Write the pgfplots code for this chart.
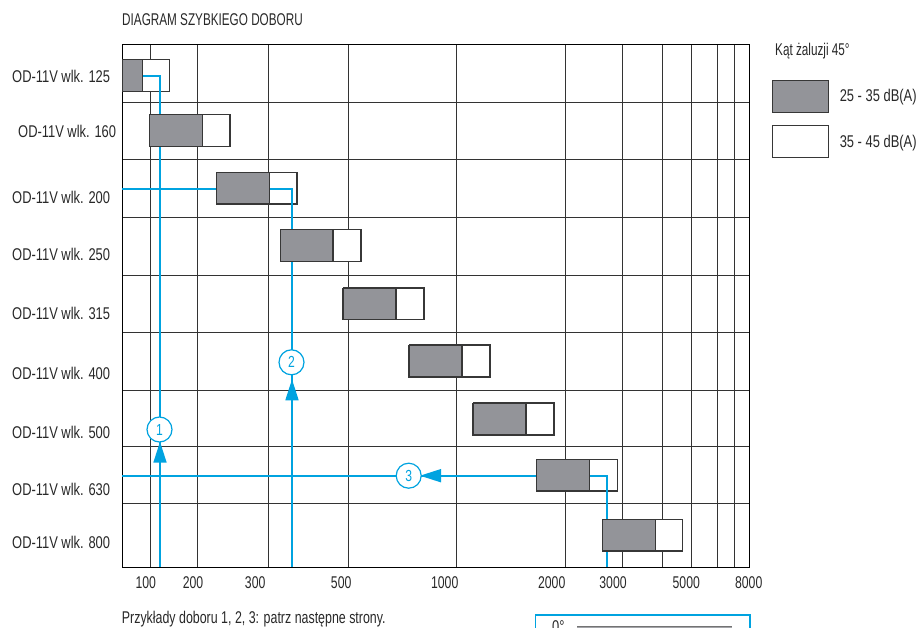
\documentclass[border=0pt]{standalone}
\usepackage{fontspec}
\setmainfont{Liberation Sans}[FakeStretch=0.76]
\newfontfamily\tickfont{Liberation Sans}[FakeStretch=0.72]
\newfontfamily\narrowfont{Liberation Sans}[FakeStretch=0.69]
\newfontfamily\notefont{Liberation Sans}[FakeStretch=0.73]
\usepackage{pgfplots}
\pgfplotsset{compat=1.18}
\usetikzlibrary{arrows.meta}

\definecolor{lineblue}{RGB}{0,163,224}
\definecolor{boxgray}{RGB}{147,148,153}
\definecolor{boxedge}{RGB}{55,55,55}
\definecolor{ink}{RGB}{40,40,40}
\newcommand{\lbl}{\fontsize{17}{20}\selectfont}

\tikzset{numcircle/.style={circle, draw=lineblue, fill=white, line width=1.2pt,
    minimum size=25pt, inner sep=0pt, text=lineblue, font=\fontsize{16}{19}\selectfont}}

\begin{document}
\begin{tikzpicture}[font=\lbl, text=ink]
\useasboundingbox (0,0) rectangle (919pt,628pt);
\begin{axis}[
  at={(122pt,61pt)}, anchor=south west,
  scale only axis, width=627pt, height=522pt,
  xmin=122, xmax=749, ymin=45, ymax=567, y dir=reverse,
  clip=false,
  axis line style={black, line width=1pt},
  xtick={145.8,193,255.2,341.2,444.7,551.7,613,686.3,748.7},
  xticklabels={100,200,300,500,1000,2000,3000,5000,8000},
  ytick={76,131,197,254,313,373,432,489,542},
  yticklabels={OD-11V wlk. 125,\hspace*{6pt}OD-11V wlk. 160,OD-11V wlk. 200,OD-11V wlk. 250,OD-11V wlk. 315,OD-11V wlk. 400,OD-11V wlk. 500,OD-11V wlk. 630,OD-11V wlk. 800},
  minor xtick={150,197.7,268.3,348.3,456.7,565.7,622.7,662.7,691.7,717.3,734},
  minor ytick={102.5,159.5,217.3,275,332.5,390,446.7,503.3},
  xminorgrids=true, yminorgrids=true,
  minor grid style={black!80, line width=0.9pt},
  major tick length=0pt, minor tick length=0pt,
  xticklabel style={anchor=center, inner sep=0pt, yshift=-16pt, font=\lbl\tickfont},
  yticklabel style={anchor=west, inner sep=0pt, xshift=-110pt, font=\lbl},
  title={DIAGRAM SZYBKIEGO DOBORU},
  title style={at={(0,1)}, anchor=west, inner sep=0pt, yshift=19.5pt, font=\lbl\narrowfont},
  legend image code/.code={\draw[#1] (0pt,-16pt) rectangle (56pt,16pt);},
  reverse legend,
  legend cell align=left,
  legend style={at={(axis description cs:1.0362,0.933)}, anchor=north west,
    draw=none, fill=none, inner sep=0pt, outer sep=0pt,
    row sep=12pt, column sep=11pt, nodes={inner sep=0pt}, font=\lbl},
]

% 35 - 45 dB(A): white part of each box
\addplot[draw=boxedge, fill=white, line width=1.1pt, unbounded coords=jump] coordinates {
  (142.3,59.7) (169.7,59.7) (169.7,91.3) (142.3,91.3) (142.3,59.7) (nan,nan)
  (202.3,114.3) (230,114.3) (230,146.3) (202.3,146.3) (202.3,114.3) (nan,nan)
  (269.3,172.3) (297,172.3) (297,204) (269.3,204) (269.3,172.3) (nan,nan)
  (333,229.7) (361,229.7) (361,261.5) (333,261.5) (333,229.7) (nan,nan)
  (396,288) (424,288) (424,319.5) (396,319.5) (396,288) (nan,nan)
  (462,345) (490,345) (490,377) (462,377) (462,345) (nan,nan)
  (526,403) (554,403) (554,435) (526,435) (526,403) (nan,nan)
  (589.7,459.3) (617.3,459.3) (617.3,491) (589.7,491) (589.7,459.3) (nan,nan)
  (655.3,519.3) (682.7,519.3) (682.7,551) (655.3,551) (655.3,519.3)
};
\addlegendentry{35 - 45 dB(A)}

% selection examples 1, 2, 3
\addplot[lineblue, line width=1.7pt, forget plot] coordinates {(142.3,76) (160,76) (160,567)};
\addplot[lineblue, line width=1.7pt, forget plot] coordinates {(122,188.7) (292,188.7) (292,567)};
\addplot[lineblue, line width=1.7pt, forget plot] coordinates {(122,475.7) (606.7,475.7) (606.7,567)};
\addplot[lineblue, line width=1.7pt, forget plot, -{Triangle[length=21pt,width=13pt]}] coordinates {(160,490) (160,441.7)};
\addplot[lineblue, line width=1.7pt, forget plot, -{Triangle[length=21pt,width=13pt]}] coordinates {(292,420) (292,379.3)};
\addplot[lineblue, line width=1.7pt, forget plot, -{Triangle[length=21pt,width=13pt]}] coordinates {(460,475.7) (420,475.7)};

% 25 - 35 dB(A): grey part of each box
\addplot[draw=boxedge, fill=boxgray, line width=1.1pt, unbounded coords=jump] coordinates {
  (122.3,59.7) (142.3,59.7) (142.3,91.3) (122.3,91.3) (122.3,59.7) (nan,nan)
  (149.7,114.3) (202.3,114.3) (202.3,146.3) (149.7,146.3) (149.7,114.3) (nan,nan)
  (216.3,172.3) (269.3,172.3) (269.3,204) (216.3,204) (216.3,172.3) (nan,nan)
  (280.3,229.7) (333,229.7) (333,261.5) (280.3,261.5) (280.3,229.7) (nan,nan)
  (343,288) (396,288) (396,319.5) (343,319.5) (343,288) (nan,nan)
  (409,345) (462,345) (462,377) (409,377) (409,345) (nan,nan)
  (473,403) (526,403) (526,435) (473,435) (473,403) (nan,nan)
  (536.7,459.3) (589.7,459.3) (589.7,491) (536.7,491) (536.7,459.3) (nan,nan)
  (602.3,519.3) (655.3,519.3) (655.3,551) (602.3,551) (602.3,519.3)
};
\addlegendentry{25 - 35 dB(A)}

\node[numcircle] at (axis cs:159.5,429.5) {1};
\node[numcircle] at (axis cs:291.5,362.3) {2};
\node[numcircle] at (axis cs:408.7,475.7) {3};

\node[anchor=base west, inner sep=0pt, font=\lbl\narrowfont] at (axis cs:775,56) {Kąt żaluzji 45°};
\node[anchor=base west, inner sep=0pt, font=\lbl\notefont] at (axis cs:121.7,623) {Przykłady doboru 1, 2, 3: patrz następne strony.};

% top of the next panel, cut by the page edge
\fill[boxgray!85] (axis cs:577,626) rectangle (axis cs:731.7,650);
\draw[black!55, line width=0.8pt] (axis cs:577,626) -- (axis cs:731.7,626);
\draw[lineblue, line width=1.4pt] (axis cs:535.7,650) |- (axis cs:750,615) -- (axis cs:750,650);
\node[anchor=north west, inner sep=0pt] at (axis cs:552,620) {0°};
\end{axis}
\end{tikzpicture}
\end{document}
